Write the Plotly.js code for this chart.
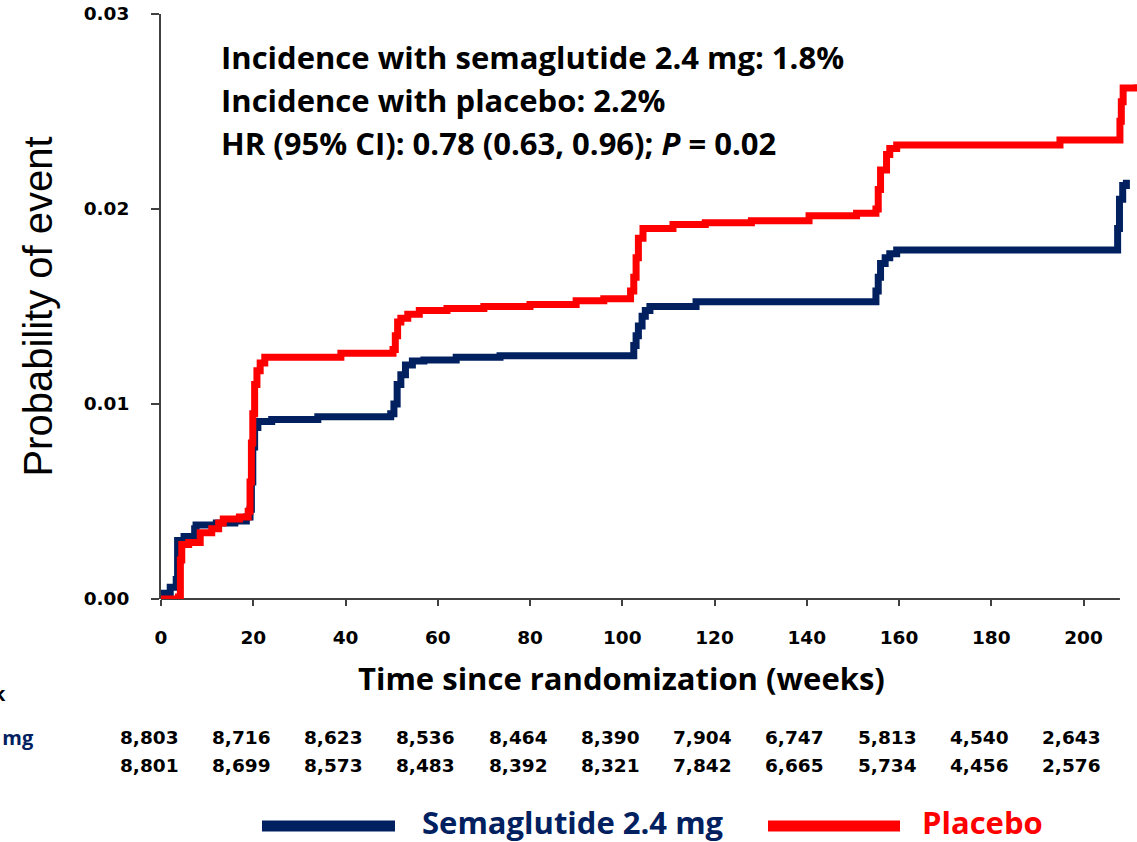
<!DOCTYPE html>
<html>
<head>
<meta charset="utf-8">
<script src="https://cdn.plot.ly/plotly-3.0.1.min.js"></script>
<style>html,body{margin:0;padding:0;background:#fff;}#chart{width:1137px;height:842px;}</style>
</head>
<body>
<div id="chart"></div>
<script>
// ---- Data ----
var semaWeeks = [0, 0.5, 2, 3.3, 3.6, 5, 7.3, 7.6, 12, 16, 18.5, 19.3, 19.6, 19.9, 20.3, 21, 24, 34, 49.8, 50.5, 51.2, 52, 53, 54.5, 57, 64, 73.5, 102.5, 103, 103.5, 104.3, 105, 106, 116, 155, 155.5, 156, 157, 158, 159.5, 207.4, 207.8, 208.5, 209.3];
var semaProb  = [0, 0.0003, 0.0006, 0.0010, 0.0030, 0.0032, 0.0036, 0.0038, 0.0039, 0.0040, 0.0042, 0.0046, 0.0060, 0.0078, 0.0088, 0.0091, 0.0092, 0.00935, 0.0095, 0.0100, 0.0110, 0.0115, 0.0120, 0.0122, 0.01226, 0.0124, 0.01248, 0.0130, 0.0135, 0.0140, 0.0145, 0.0148, 0.0150, 0.01525, 0.0158, 0.0165, 0.0172, 0.0175, 0.0177, 0.0179, 0.0190, 0.0205, 0.0212, 0.0215];

var placWeeks = [0, 3.8, 4.2, 4.5, 6, 8.5, 11, 12.5, 13.5, 17, 18.9, 19.3, 19.6, 19.9, 20.3, 20.8, 21.5, 22.5, 39, 50.3, 50.8, 51.3, 52, 53.5, 56, 62, 70, 80, 90, 96, 101.8, 102.5, 103, 103.5, 104.5, 111, 118, 128, 140.5, 150.8, 155, 155.5, 156, 157.3, 158, 159.5, 194.9, 207.9, 208.2, 208.6, 211.6];
var placProb  = [0, 0.0001, 0.0020, 0.0028, 0.0029, 0.0034, 0.0036, 0.0039, 0.0041, 0.0042, 0.0045, 0.0060, 0.0080, 0.0095, 0.0110, 0.0117, 0.0121, 0.0124, 0.0126, 0.0128, 0.0135, 0.0142, 0.0144, 0.0146, 0.0148, 0.0149, 0.0150, 0.0151, 0.0153, 0.0154, 0.0158, 0.0165, 0.0175, 0.0185, 0.0190, 0.0192, 0.0193, 0.0194, 0.01965, 0.01978, 0.0200, 0.0210, 0.0220, 0.0228, 0.0231, 0.02328, 0.02354, 0.0245, 0.0255, 0.0262, 0.0264];

var xTicks = [0, 20, 40, 60, 80, 100, 120, 140, 160, 180, 200];
var yTicks = [0, 0.01, 0.02, 0.03];
var yTickLabels = ['0.00', '0.01', '0.02', '0.03'];

var riskSema = ['8,803', '8,716', '8,623', '8,536', '8,464', '8,390', '7,904', '6,747', '5,813', '4,540', '2,643'];
var riskPlac = ['8,801', '8,699', '8,573', '8,483', '8,392', '8,321', '7,842', '6,665', '5,734', '4,456', '2,576'];

var seriesNames = ['Semaglutide 2.4 mg', 'Placebo'];
var xTitle = 'Time since randomization (weeks)';
var yTitle = 'Probability of event';
var statLines = ['Incidence with semaglutide 2.4 mg: 1.8%', 'Incidence with placebo: 2.2%', 'HR (95% CI): 0.78 (0.63, 0.96); <i>P</i> = 0.02'];

// ---- Styling / layout constants ----
var NAVY = '#002060', RED = '#FF0000', AXIS = '#404040';
var W = 1137, H = 842, L = 161, R = 0, T = 14, B = 243;
var PW = W - L - R, PH = H - T - B;
function px2x(px) { return (px - L) / PW; }
function py2y(py) { return (H - B - py) / PH; }

var tickFont = {family: 'DejaVu Sans', size: 18.5, color: '#000', weight: 'bold'};
var SANS = 'Open Sans';

var traces = [
  {x: semaWeeks, y: semaProb, mode: 'lines', line: {shape: 'hv', color: NAVY, width: 7}, name: seriesNames[0], showlegend: false},
  {x: placWeeks, y: placProb, mode: 'lines', line: {shape: 'hv', color: RED, width: 7}, name: seriesNames[1], showlegend: false}
];

var annotations = [];
statLines.forEach(function (t, i) {
  annotations.push({xref: 'paper', yref: 'paper', x: px2x(219), y: py2y([57, 100, 143][i]),
    xanchor: 'left', yanchor: 'middle', showarrow: false, text: t,
    font: {family: SANS, size: 31, color: '#000', weight: 'bold'}});
});
// x-axis title (centred where the reference centres it)
annotations.push({xref: 'paper', yref: 'paper', x: px2x(621), y: py2y(678), xanchor: 'center', yanchor: 'middle', showarrow: false,
  text: xTitle, font: {family: SANS, size: 31, color: '#000', weight: 'bold'}});
xTicks.forEach(function (w, i) {
  annotations.push({xref: 'x', yref: 'paper', x: w, xshift: -12, y: py2y(737), yanchor: 'middle', showarrow: false,
    text: riskSema[i], font: tickFont});
  annotations.push({xref: 'x', yref: 'paper', x: w, xshift: -12, y: py2y(766), yanchor: 'middle', showarrow: false,
    text: riskPlac[i], font: tickFont});
});
annotations.push({xref: 'paper', yref: 'paper', x: px2x(8), y: py2y(693), xanchor: 'right', yanchor: 'middle', showarrow: false,
  text: 'Number at risk', font: {family: SANS, size: 20, color: '#000', weight: 'bold'}});
annotations.push({xref: 'paper', yref: 'paper', x: px2x(36), y: py2y(737), xanchor: 'right', yanchor: 'middle', showarrow: false,
  text: seriesNames[0], font: {family: SANS, size: 20, color: NAVY, weight: 'bold'}});
// bottom legend
annotations.push({xref: 'paper', yref: 'paper', x: px2x(420), y: py2y(822), xanchor: 'left', yanchor: 'middle', showarrow: false,
  text: seriesNames[0], font: {family: SANS, size: 31, color: NAVY, weight: 'bold'}});
annotations.push({xref: 'paper', yref: 'paper', x: px2x(920), y: py2y(822), xanchor: 'left', yanchor: 'middle', showarrow: false,
  text: seriesNames[1], font: {family: SANS, size: 31, color: RED, weight: 'bold'}});

var shapes = [
  {type: 'line', xref: 'x', yref: 'paper', x0: 0, x1: 207.9, y0: 0, y1: 0, line: {color: AXIS, width: 2}, layer: 'below'},
  {type: 'line', xref: 'paper', yref: 'paper', x0: px2x(262), x1: px2x(395), y0: py2y(826), y1: py2y(826), line: {color: NAVY, width: 11}},
  {type: 'line', xref: 'paper', yref: 'paper', x0: px2x(768), x1: px2x(900), y0: py2y(826), y1: py2y(826), line: {color: RED, width: 11}}
];

var layout = {
  width: W, height: H,
  margin: {l: L, r: R, t: T, b: B, pad: 0},
  paper_bgcolor: '#fff', plot_bgcolor: '#fff',
  showlegend: false,
  xaxis: {
    range: [0, 211.6], tickvals: xTicks, ticks: 'outside', ticklen: 6, tickwidth: 2, tickcolor: AXIS,
    showline: false, showgrid: false, zeroline: false, tickfont: tickFont, ticklabelstandoff: 16
  },
  yaxis: {
    range: [0, 0.03], tickvals: yTicks, ticktext: yTickLabels, ticks: 'outside', ticklen: 8, tickwidth: 2, tickcolor: AXIS,
    showline: true, linecolor: AXIS, linewidth: 2, showgrid: false, zeroline: false, tickfont: tickFont, ticklabelstandoff: 18,
    title: {text: yTitle, standoff: 19, font: {family: 'Liberation Sans', size: 40, color: '#000'}}
  },
  annotations: annotations,
  shapes: shapes
};

Plotly.newPlot('chart', traces, layout, {displayModeBar: false, staticPlot: true});
</script>
</body>
</html>
